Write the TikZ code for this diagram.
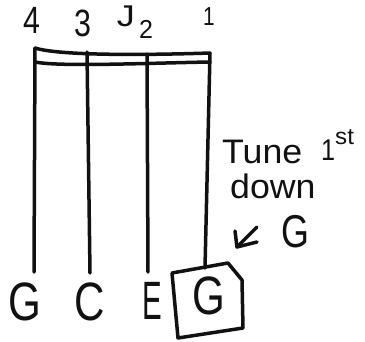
\documentclass[tikz,border=0pt]{standalone}
\usepackage{fontspec}
\setmainfont{Liberation Sans}
\usetikzlibrary{arrows.meta}
\definecolor{InkColor}{HTML}{111111}
\tikzset{
	ink/.style={draw=InkColor, line width=3.5pt, line cap=round, line join=round},
	strlabel/.style={text=InkColor, font=\fontsize{38}{40}\selectfont, inner sep=0pt, xscale=0.8},
	openlabel/.style={text=InkColor, font=\fontsize{54}{56}\selectfont, inner sep=0pt, xscale=0.78},
	notelabel/.style={text=InkColor, font=\fontsize{34}{36}\selectfont, inner sep=0pt, anchor=west, xscale=1.05},
}
\begin{document}
\begin{tikzpicture}[x=1pt,y=-1pt]
	\useasboundingbox[fill=white] (0,0) rectangle (365,341);

	% String numbers
	\node[strlabel] (num4) at (32,20) {4};
	\node[strlabel] (num3) at (83,23) {3};
	\node[strlabel, font=\fontsize{30}{32}\selectfont, xscale=1.5] (numJ) at (126,16) {J};
	\node[strlabel, font=\fontsize{26}{28}\selectfont, xscale=1.2] (num2) at (146,29) {2};
	\node[strlabel, font=\fontsize{26}{28}\selectfont] (num1) at (209,17) {1};

	% Nut
	\coordinate (nut4) at (35,48);
	\coordinate (nut1) at (210,53);
	\draw[ink] (nut4) .. controls (60,56) and (150,55) .. (nut1);
	\draw[ink] (35,62) .. controls (60,67) and (150,63) .. (210,62);

	% Strings
	\coordinate (end4) at (34,272);
	\coordinate (end3) at (90,273);
	\coordinate (end2) at (148,272);
	\coordinate (end1) at (205,268);
	\draw[ink] (nut4) -- (end4);
	\draw[ink] (87,52) -- (end3);
	\draw[ink] (147,54) -- (end2);
	\draw[ink] (nut1) -- (end1);

	% Open string notes
	\node[openlabel] (noteG) at (25,302) {G};
	\node[openlabel] (noteC) at (90,302) {C};
	\node[openlabel, xscale=0.7] (noteE) at (152,301) {E};
	\node[openlabel] (noteGone) at (209,296) {G};
	\draw[ink] (172,273) -- (228,263) -- (242,280) -- (243,328) -- (178,338) -- cycle;

	% Tuning note
	\node[notelabel] (tune) at (222,152) {Tune};
	\node[notelabel, font=\fontsize{30}{32}\selectfont, xscale=0.8] (firstnum) at (321,150) {1};
	\node[notelabel, font=\fontsize{23}{25}\selectfont] (firstsup) at (335,137) {st};
	\node[notelabel] (down) at (230,186) {down};
	\coordinate (arrtail) at (257,227);
	\coordinate (arrhead) at (237,247);
	\draw[ink] (arrtail) -- (arrhead);
	\draw[ink] (235,231) -- (arrhead) -- (257,242);
	\node[openlabel, font=\fontsize{46}{48}\selectfont, xscale=1] (tuneG) at (295,232) {G};
\end{tikzpicture}
\end{document}
